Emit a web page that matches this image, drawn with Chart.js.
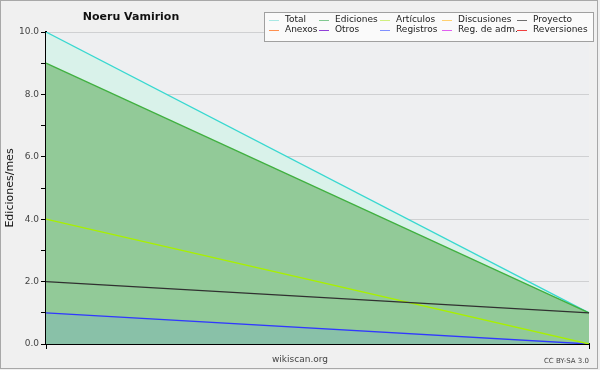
<!DOCTYPE html>
<html>
<head>
<meta charset="utf-8">
<script src="https://cdn.jsdelivr.net/npm/chart.js@4/dist/chart.umd.min.js"></script>
<style>
  body { margin: 0; background: #f0f0f0; }
  #wrap { width: 600px; height: 370px; }
</style>
</head>
<body>
<div id="wrap"><canvas id="myChart" width="600" height="370"></canvas></div>
<script>
// datos
const periodos = ['inicio', 'fin'];
const total = [10, 1];
const ediciones = [9, 1];
const articulos = [4, 0];
const proyecto = [2, 1];
const registros = [1, 0];
const yTicks = [0, 2, 4, 6, 8, 10];

const leyenda = [
    ['Total', '#a8e8e4'], ['Ediciones', '#80c890'], ['Artículos', '#d0f080'],
    ['Discusiones', '#ffd070'], ['Proyecto', '#707070'],
    ['Anexos', '#ff9050'], ['Otros', '#9040d8'], ['Registros', '#8090ff'],
    ['Reg. de adm.', '#e060f0'], ['Reversiones', '#f04040']
];

const fondo = {
    id: 'fondo',
    beforeDraw(chart) {
        const { ctx, chartArea: a } = chart;
        ctx.save();
        ctx.fillStyle = '#f0f0f0';
        ctx.fillRect(0, 0, chart.width, chart.height);
        ctx.fillStyle = '#eeeff1';
        ctx.fillRect(a.left, a.top, a.right - a.left, a.bottom - a.top);
        ctx.restore();
    },
    afterDraw(chart) {
        const ctx = chart.ctx;
        ctx.save();
        ctx.strokeStyle = '#a8a8a8';
        ctx.lineWidth = 1;
        ctx.strokeRect(0.5, 0.5, 597, 368);

        ctx.fillStyle = '#111';
        ctx.font = 'bold 11px "DejaVu Sans"';
        ctx.textAlign = 'center';
        ctx.textBaseline = 'middle';
        ctx.fillText('Noeru Vamirion', 131, 17);

        // cuadro de leyenda
        ctx.fillStyle = '#fafafa';
        ctx.fillRect(264.5, 12.5, 329, 29);
        ctx.strokeStyle = '#a0a0a0';
        ctx.strokeRect(264.5, 12.5, 329, 29);
        const cols = [269, 319, 380, 442, 517];
        ctx.font = '9px "DejaVu Sans"';
        ctx.textAlign = 'left';
        leyenda.forEach((it, i) => {
            const x = cols[i % 5];
            const y = 20 + Math.floor(i / 5) * 10;
            ctx.strokeStyle = it[1];
            ctx.beginPath();
            ctx.moveTo(x, y + 0.5);
            ctx.lineTo(x + 10, y + 0.5);
            ctx.stroke();
            ctx.fillStyle = '#222';
            ctx.fillText(it[0], x + 16, y);
        });

        ctx.fillStyle = '#444';
        ctx.font = '9px "DejaVu Sans"';
        ctx.textAlign = 'center';
        ctx.fillText('wikiscan.org', 300, 360);
        ctx.font = '7px "DejaVu Sans"';
        ctx.textAlign = 'right';
        ctx.fillText('CC BY-SA 3.0', 589, 361);
        ctx.restore();
    }
};

function linea(label, data, color, fill, orden) {
    return {
        label: label,
        data: data,
        borderColor: color,
        backgroundColor: fill || 'transparent',
        fill: fill ? 'origin' : false,
        borderWidth: 1.3,
        pointRadius: 0,
        tension: 0,
        order: orden
    };
}

new Chart(document.getElementById('myChart'), {
    type: 'line',
    data: {
        labels: periodos,
        datasets: [
            linea('Total', total, '#38d8d0', '#d9f2ea', 10),
            linea('Ediciones', ediciones, '#40b040', '#92ca98', 9),
            linea('Registros', registros, '#3038ff', '#89c1a8', 8),
            linea('Artículos', articulos, '#a8f000', null, 7),
            linea('Proyecto', proyecto, '#303030', null, 6)
        ]
    },
    plugins: [fondo],
    options: {
        responsive: false,
        animation: false,
        layout: { padding: { left: 4, right: 11, top: 32, bottom: 0 } },
        plugins: { legend: { display: false }, title: { display: false }, tooltip: { enabled: false } },
        scales: {
            x: {
                offset: false,
                ticks: { display: false },
                grid: { display: true, drawOnChartArea: false, tickLength: 5, tickColor: '#000' },
                border: { color: '#000', width: 2 },
                afterFit: s => { s.height = 26; }
            },
            y: {
                min: 0,
                max: 10,
                ticks: {
                    stepSize: 1,
                    padding: 2,
                    color: '#444',
                    font: { family: 'DejaVu Sans', size: 9 },
                    callback: v => yTicks.includes(v) ? v.toFixed(1) : ''
                },
                grid: {
                    color: c => yTicks.includes(c.tick.value) ? '#cfd0d2' : 'transparent',
                    tickColor: '#000',
                    tickLength: 5
                },
                border: { color: '#000', width: 2 },
                title: {
                    display: true,
                    text: 'Ediciones/mes',
                    color: '#111',
                    font: { family: 'DejaVu Sans', size: 11 },
                    padding: 0
                },
                afterFit: s => { s.width = 42; }
            }
        }
    }
});
</script>
</body>
</html>
